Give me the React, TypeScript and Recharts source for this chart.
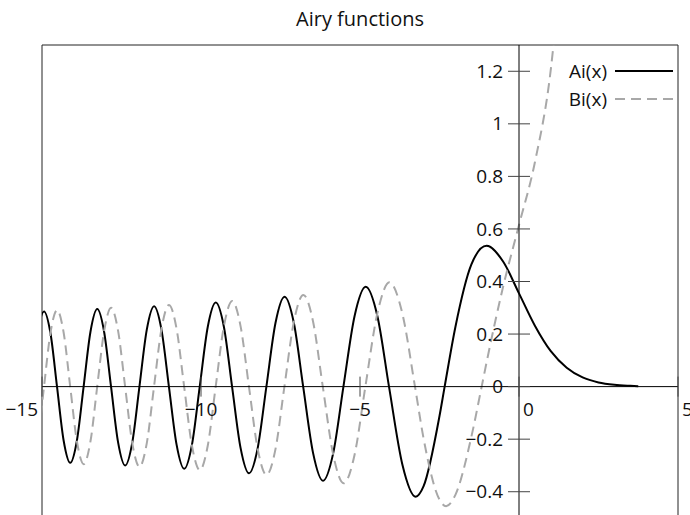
import { LineChart, Line, XAxis, YAxis, ReferenceLine, ReferenceArea, ReferenceDot } from 'recharts'

// [x, y] pairs: zeros, extrema and the points half way between
const aiPoints: [number, number][] = [
  [-15.341, 0], [-15.138, 0.202], [-14.936, 0.286], [-14.732, 0.202],
  [-14.528, 0], [-14.32, -0.205], [-14.112, -0.29], [-13.902, -0.205],
  [-13.691, 0], [-13.477, 0.208], [-13.262, 0.295], [-13.046, 0.208],
  [-12.829, 0], [-12.607, -0.212], [-12.385, -0.3], [-12.16, -0.212],
  [-11.936, 0], [-11.706, 0.216], [-11.475, 0.306], [-11.242, 0.216],
  [-11.009, 0], [-10.768, -0.221], [-10.528, -0.313], [-10.284, -0.221],
  [-10.04, 0], [-9.788, 0.227], [-9.535, 0.32], [-9.279, 0.227],
  [-9.023, 0], [-8.756, -0.233], [-8.488, -0.33], [-8.216, -0.233],
  [-7.944, 0], [-7.658, 0.242], [-7.372, 0.342], [-7.079, 0.242],
  [-6.787, 0], [-6.475, -0.253], [-6.163, -0.358], [-5.842, -0.253],
  [-5.521, 0], [-5.17, 0.269], [-4.82, 0.38], [-4.454, 0.269],
  [-4.088, 0], [-3.668, -0.296], [-3.248, -0.419], [-3.0, -0.379],
  [-2.5, -0.112], [-2.338, 0], [-2.0, 0.227], [-1.5, 0.464],
  [-1.019, 0.536], [-0.5, 0.476], [0, 0.355], [0.5, 0.232],
  [1, 0.135], [1.5, 0.072], [2, 0.035], [2.5, 0.016],
  [3, 0.007], [3.5, 0.003], [3.75, 0.0016],
]

const biPoints: [number, number][] = [
  [-15.339, -0.288], [-15.138, -0.204], [-14.937, 0], [-14.732, 0.206],
  [-14.526, 0.291], [-14.32, 0.206], [-14.113, 0], [-13.901, -0.209],
  [-13.69, -0.295], [-13.477, -0.209], [-13.264, 0], [-13.045, 0.212],
  [-12.827, 0.3], [-12.607, 0.212], [-12.386, 0], [-12.16, -0.216],
  [-11.934, -0.305], [-11.706, -0.216], [-11.477, 0], [-11.242, 0.22],
  [-11.006, 0.311], [-10.768, 0.22], [-10.53, 0], [-10.284, -0.225],
  [-10.037, -0.318], [-9.788, -0.225], [-9.538, 0], [-9.279, 0.23],
  [-9.019, 0.326], [-8.756, 0.23], [-8.492, 0], [-8.216, -0.238],
  [-7.94, -0.336], [-7.658, -0.238], [-7.377, 0], [-7.079, 0.247],
  [-6.781, 0.349], [-6.475, 0.247], [-6.17, 0], [-5.841, -0.26],
  [-5.512, -0.368], [-5.172, -0.26], [-4.831, 0], [-4.452, 0.28],
  [-4.073, 0.397], [-3.672, 0.28], [-3.271, 0], [-3.0, -0.198],
  [-2.5, -0.43], [-2.294, -0.455], [-2.0, -0.412], [-1.5, -0.192],
  [-1.174, 0], [-1.0, 0.104], [-0.5, 0.38], [0, 0.615],
  [0.5, 0.854], [1.0, 1.207], [1.5, 1.879],
]

const xTicks = [-15, -10, -5, 0, 5]
const yTicks = [-0.4, -0.2, 0, 0.2, 0.4, 0.6, 0.8, 1, 1.2]
const seriesNames = ['Ai(x)', 'Bi(x)']

const FONT = "'Open Sans', sans-serif"
const FS = 19
const AI_COLOR = '#000'
const BI_COLOR = '#a8a8a8'

const aiData = aiPoints.map(([x, y]) => ({ x, y }))
const biData = biPoints.map(([x, y]) => ({ x, y }))

const fmt = (v: number) => (v < 0 ? '\u2212' + Math.abs(v) : String(v))

function xTickShape(v: number) {
  return (p: any) => {
    const { cx, cy } = p
    let anchor: 'start' | 'middle' | 'end' = 'middle'
    let tx = cx
    if (v === xTicks[0]) { anchor = 'end'; tx = cx - 4 }
    else if (v >= 0) { anchor = 'start'; tx = cx + 4 }
    return (
      <g>
        <line x1={cx} x2={cx} y1={cy - 10} y2={cy + 10} stroke="#444" strokeWidth={1} />
        <text x={tx} y={cy + 29} textAnchor={anchor} fontSize={FS} fontFamily={FONT} fill="#111">
          {fmt(v)}
        </text>
      </g>
    )
  }
}

function yTickShape(v: number) {
  return (p: any) => {
    const { cx, cy } = p
    return (
      <g>
        <line x1={cx - 11} x2={cx + 11} y1={cy} y2={cy} stroke="#444" strokeWidth={1} />
        <text x={cx - 16} y={cy} dy="0.35em" textAnchor="end" fontSize={FS} fontFamily={FONT} fill="#111">
          {fmt(v)}
        </text>
      </g>
    )
  }
}

function LegendBox() {
  const rows = [
    { name: seriesNames[0], color: AI_COLOR, dash: undefined },
    { name: seriesNames[1], color: BI_COLOR, dash: '10 6' },
  ]
  return (
    <div style={{ position: 'absolute', left: 540, top: 57, fontFamily: FONT, fontSize: FS }}>
      {rows.map((r) => (
        <div key={r.name} style={{ display: 'flex', alignItems: 'center', height: 28 }}>
          <span style={{ width: 67, textAlign: 'right', color: '#111' }}>{r.name}</span>
          <svg width={66} height={10} style={{ marginLeft: 8 }}>
            <line x1={0} x2={58} y1={5} y2={5} stroke={r.color} strokeWidth={2} strokeDasharray={r.dash} />
          </svg>
        </div>
      ))}
    </div>
  )
}

export default function App() {
  return (
    <div style={{ position: 'absolute', left: 0, top: 0, width: 690, height: 515, overflow: 'hidden', background: '#fff' }}>
      <div
        style={{
          position: 'absolute', left: 42, top: 5, width: 636, textAlign: 'center',
          fontFamily: FONT, fontSize: 20, color: '#111',
        }}
      >
        Airy functions
      </div>
      <LineChart width={690} height={520} margin={{ top: 45, right: 12, bottom: 2, left: 42 }}>
        <XAxis type="number" dataKey="x" domain={[-15, 5]} hide allowDataOverflow />
        <YAxis type="number" domain={[-0.5, 1.3]} hide allowDataOverflow />
        <ReferenceArea x1={-15} x2={5} y1={-0.5} y2={1.3} fill="none" stroke="#222" strokeWidth={1} />
        <Line data={aiData} dataKey="y" type="monotone" stroke={AI_COLOR} strokeWidth={2} dot={false} isAnimationActive={false} />
        <Line data={biData} dataKey="y" type="monotone" stroke={BI_COLOR} strokeWidth={2} strokeDasharray="10 6" dot={false} isAnimationActive={false} />
        <ReferenceLine y={0} stroke="#000" strokeWidth={1} />
        <ReferenceLine x={0} stroke="#000" strokeWidth={1} />
        {xTicks.map((v) => (
          <ReferenceDot key={'x' + v} x={v} y={0} r={0} shape={xTickShape(v)} />
        ))}
        {yTicks.map((v) => (
          <ReferenceDot key={'y' + v} x={0} y={v} r={0} shape={yTickShape(v)} />
        ))}
      </LineChart>
      <LegendBox />
    </div>
  )
}
